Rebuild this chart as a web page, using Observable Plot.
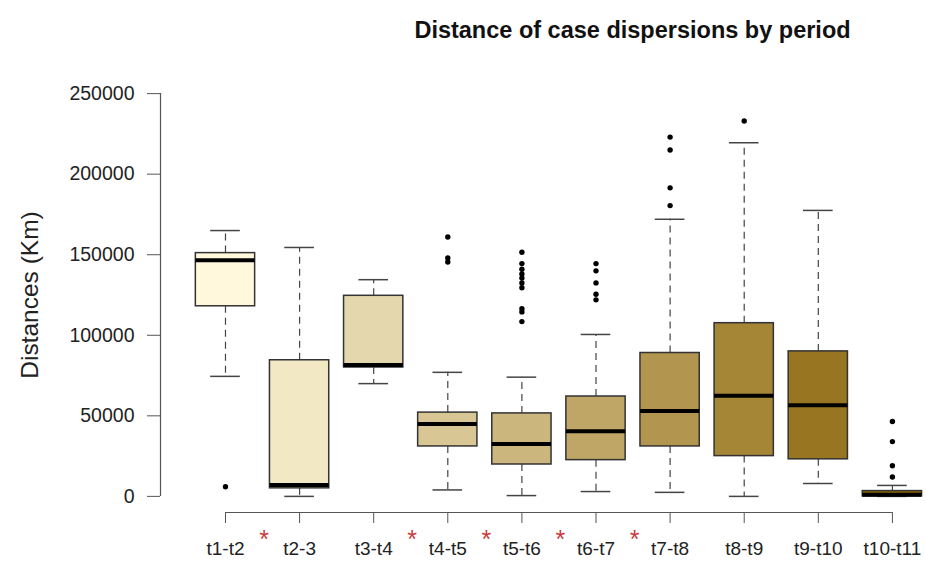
<!DOCTYPE html>
<html><head><meta charset="utf-8">
<script src="https://cdn.jsdelivr.net/npm/d3@7"></script>
<script src="https://cdn.jsdelivr.net/npm/@observablehq/plot@0.6"></script>
<style>
html,body{margin:0;padding:0;background:#fff;}
</style></head><body><div id="chart"></div>
<script>
// ---- data ----
const categories   = ["t1-t2","t2-3","t3-t4","t4-t5","t5-t6","t6-t7","t7-t8","t8-t9","t9-t10","t10-t11"];
const lowerWhisker = [ 74500,      0,  70000,   4000,    500,   3000,   2500,      0,   8000,     0];
const q1           = [118000,   5000,  80000,  31000,  19800,  22500,  31000,  25000,  23000,     0];
const median       = [146500,   7000,  81500,  45000,  32500,  40500,  53000,  62500,  56500,  1000];
const q3           = [151000,  84500, 124500,  52000,  51500,  62000,  89000, 107500,  90000,  3300];
const upperWhisker = [165000, 154500, 134500,  77000,  74000, 100500, 172000, 219500, 177500,  6800];
const outliers = [
  [6000],
  [],
  [],
  [161000, 148000, 145500],
  [151500, 144500, 141000, 138000, 135500, 132500, 129500, 116500, 114500, 108500],
  [144500, 140000, 132500, 125500, 122000],
  [223000, 215000, 191500, 180500],
  [233000],
  [],
  [46500, 34000, 19000, 12000]
];
const significantAfter = [0, 2, 3, 4, 5]; // red asterisks between consecutive periods
const yTicks = [0, 50000, 100000, 150000, 200000, 250000];
const title = "Distance of case dispersions by period";
const yLabel = "Distances (Km)";

// ---- derived tables ----
const rows = categories.map((c, i) => ({
  i, c, lw: lowerWhisker[i], q1: q1[i], med: median[i], q3: q3[i], uw: upperWhisker[i]
}));
const outlierRows = outliers.flatMap((vs, i) => vs.map(v => ({i, v})));
const colors = d3.quantize(d3.interpolateRgb("#FFF8DC", "#8B6508"), categories.length);

const xDomain = [-0.877, 9.46];
const yDomain = [-10000, 260000];
const boxHalf = 0.4, capHalf = 0.2;

const chart = Plot.plot({
  width: 926,
  height: 578,
  marginLeft: 160,
  marginRight: 0,
  marginTop: 77,
  marginBottom: 66,
  style: {fontFamily: "'Liberation Sans', Arial, Helvetica, sans-serif", background: "#fff", color: "#222"},
  x: {type: "linear", domain: xDomain, axis: null},
  y: {domain: yDomain, axis: null},
  marks: [
    // axes
    Plot.axisY({ticks: yTicks, tickFormat: d => String(d), tickSize: 13, tickPadding: 13,
      fontSize: 19.5, stroke: "#555", fill: "#222", label: null}),
    Plot.ruleX([xDomain[0]], {y1: yTicks[0], y2: yTicks[yTicks.length - 1], stroke: "#555", strokeWidth: 1.2}),
    Plot.axisX({ticks: d3.range(categories.length), tickFormat: i => categories[i], tickSize: 11,
      tickPadding: 18, fontSize: 19, stroke: "#555", fill: "#222", label: null}),
    Plot.ruleY([yDomain[0]], {x1: 0, x2: categories.length - 1, stroke: "#555", strokeWidth: 1.2}),
    // whiskers
    Plot.ruleX(rows, {x: "i", y1: "q3", y2: "uw", stroke: "#444", strokeWidth: 1.2, strokeDasharray: "7,5"}),
    Plot.ruleX(rows, {x: "i", y1: "q1", y2: "lw", stroke: "#444", strokeWidth: 1.2, strokeDasharray: "7,5"}),
    Plot.ruleY(rows, {x1: d => d.i - capHalf, x2: d => d.i + capHalf, y: "uw", stroke: "#444", strokeWidth: 1.5}),
    Plot.ruleY(rows, {x1: d => d.i - capHalf, x2: d => d.i + capHalf, y: "lw", stroke: "#444", strokeWidth: 1.5}),
    // boxes
    Plot.rect(rows, {x1: d => d.i - boxHalf, x2: d => d.i + boxHalf, y1: "q1", y2: "q3",
      fill: d => colors[d.i], stroke: "#333", strokeWidth: 1.5}),
    Plot.ruleY(rows, {x1: d => d.i - boxHalf, x2: d => d.i + boxHalf, y: "med", stroke: "#000", strokeWidth: 4}),
    // outliers
    Plot.dot(outlierRows, {x: "i", y: "v", r: 2.7, fill: "#000", stroke: null}),
    // significance asterisks
    Plot.text(significantAfter, {x: d => d + 0.52, frameAnchor: "bottom", dy: 27, text: () => "*",
      fill: "#cc3b3b", fontSize: 25, lineAnchor: "middle"}),
    // title & y label
    Plot.text([title], {frameAnchor: "top", dx: 89, dy: -47, fontWeight: "bold", fontSize: 23.5,
      lineAnchor: "middle", textAnchor: "middle", fill: "#111"}),
    Plot.text([yLabel], {frameAnchor: "left", dx: -130, rotate: -90, fontSize: 24.5, fill: "#222",
      textAnchor: "middle", lineAnchor: "middle"})
  ]
});
document.getElementById("chart").appendChild(chart);
</script>
</body></html>
